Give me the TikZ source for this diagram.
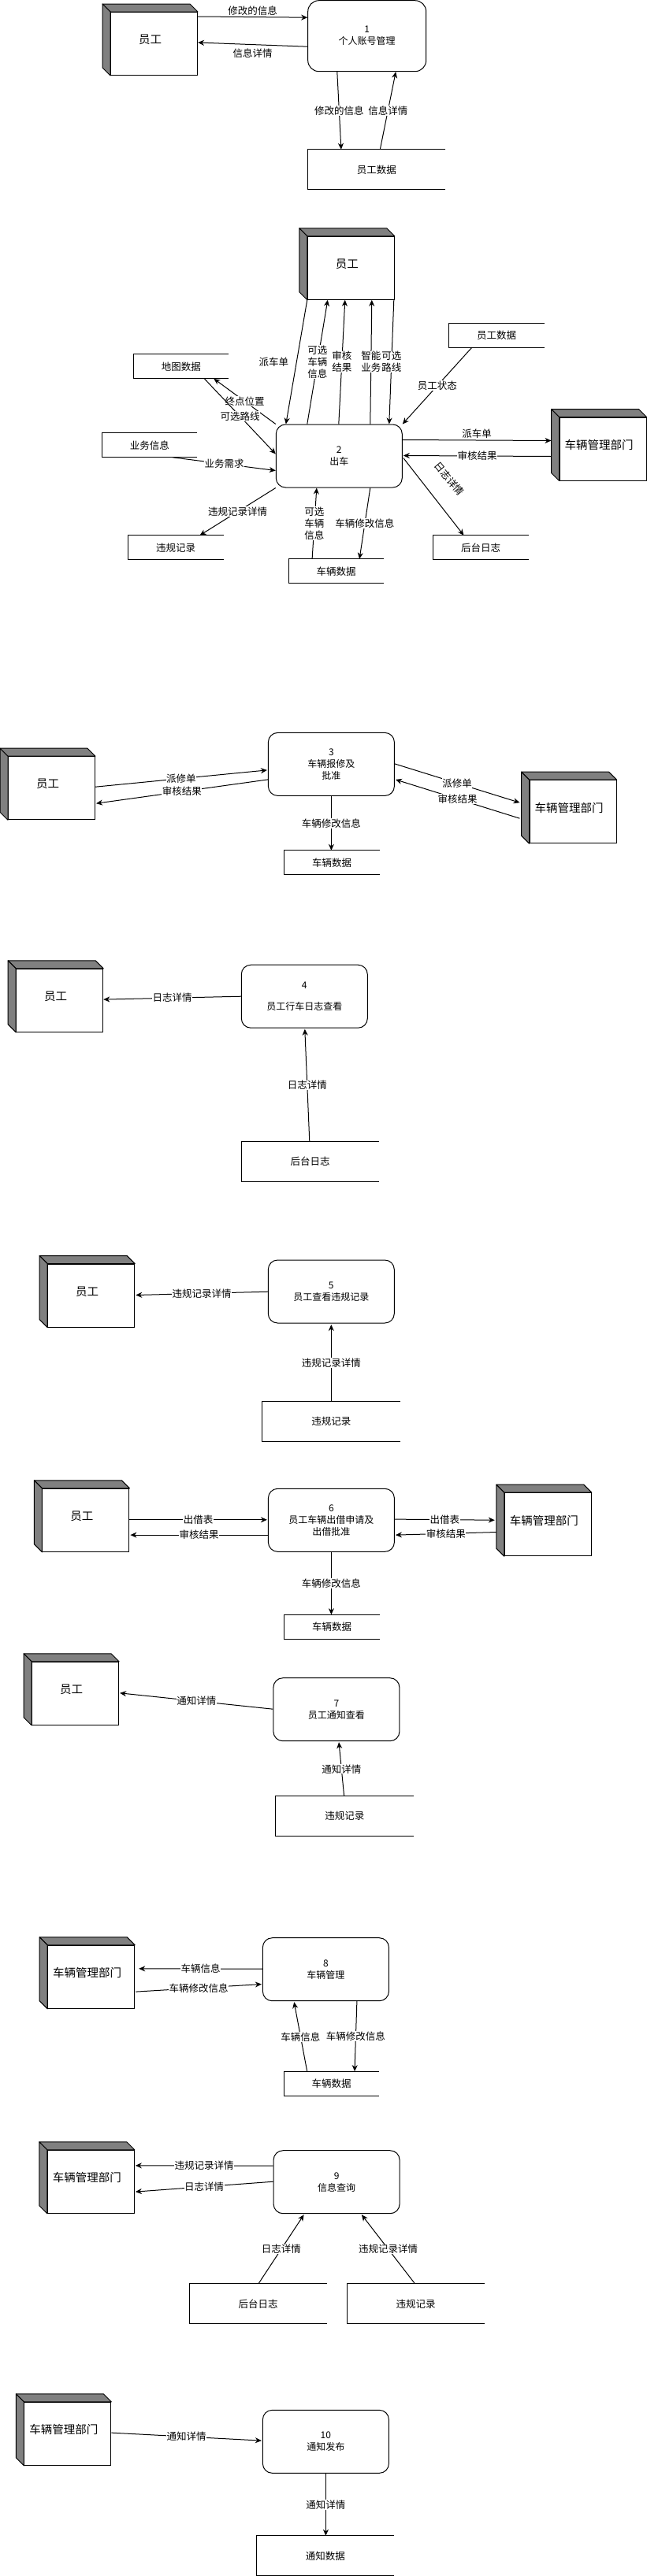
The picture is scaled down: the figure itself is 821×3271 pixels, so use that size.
\documentclass[tikz,border=0pt]{standalone}
\usepackage{fontspec}
\setmainfont{Noto Sans CJK SC}
\usetikzlibrary{arrows.meta,calc}
\definecolor{entgray}{HTML}{808080}
\newcommand\entsides[1]{%
  \draw[fill=entgray,line join=round] (#1.north west) -- ++(-10,-10) -- ($(#1.north east)+(-10,-10)$) -- (#1.north east) -- cycle;
  \draw[fill=entgray,line join=round] (#1.north west) -- ++(-10,-10) -- ($(#1.south west)+(-10,-10)$) -- (#1.south west) -- cycle;}
\newcommand\storelines[1]{\draw (#1.north east) -- (#1.north west) -- (#1.south west) -- (#1.south east);}
\tikzset{
  entlbl/.style={font=\fontsize{14.5}{17}\selectfont, xshift=-5pt, yshift=5pt, inner sep=0pt},
  ent/.style={draw, fill=white, minimum width=110pt, minimum height=80pt, inner sep=0pt, label={[entlbl]center:#1}},
  proc/.style={draw, rounded corners=12pt, minimum width=160pt, minimum height=80pt, inner sep=0pt, align=center, font=\fontsize{12}{15}\selectfont},
  store/.style={minimum width=120pt, minimum height=30pt, inner sep=0pt, font=\fontsize{12.5}{15}\selectfont},
  bigstore/.style={store, minimum width=174pt, minimum height=50pt},
  flow/.style={draw, line width=1pt, -{Stealth[length=8pt,width=7pt,inset=2.5pt]}},
  lbl/.style={fill=white, inner sep=0.5pt, align=center, font=\fontsize{12.5}{15}\selectfont},
}
\begin{document}
\begin{tikzpicture}[x=1pt,y=-1pt,line width=1pt]
\fill[white] (0,0) rectangle (821,3271);
\useasboundingbox (0,0) rectangle (821,3271);

% ---------- 1 ----------
\node[ent=员工] (e1) at (195.5,55.5) {};
\entsides{e1}
\node[proc, minimum width=150pt, minimum height=90pt, rounded corners=14pt] (p1) at (465.7,45.7) {1\\个人账号管理};
\node[bigstore] (s1) at (477.8,215.3) {员工数据};
\storelines{s1}
\draw[flow] ($(e1.north east)+(0,6)$) -- node[lbl, above=1pt]{修改的信息} ($(p1.north west)+(0,22)$);
\draw[flow] ($(p1.north west)+(0,59)$) -- node[lbl, below=4pt]{信息详情} ($(e1.north east)+(0,39)$);
\draw[flow] ($(p1.south west)+(37.6,0)$) -- node[lbl]{修改的信息} ($(s1.north west)+(42.6,0)$);
\draw[flow] ($(s1.north west)+(92,0)$) -- node[lbl]{信息详情} ($(p1.south west)+(112,0)$);

% ---------- 2 ----------
\node[ent=员工] (e2) at (445.3,340.3) {};
\entsides{e2}
\node[proc] (p2) at (430.3,579) {2\\出车};
\node[store] (s2map) at (229.8,465.3) {地图数据}; \storelines{s2map}
\node[store] (s2biz) at (189.8,565.3) {业务信息}; \storelines{s2biz}
\node[store] (s2vio) at (223,695.3) {违规记录}; \storelines{s2vio}
\node[store] (s2car) at (426.6,725.3) {车辆数据}; \storelines{s2car}
\node[store] (s2log) at (610,695.3) {后台日志}; \storelines{s2log}
\node[store] (s2emp) at (630,425.5) {员工数据}; \storelines{s2emp}
\node[ent=车辆管理部门] (e2dept) at (765,570) {};
\entsides{e2dept}

\draw[flow] (e2.south west) -- node[lbl, fill=none, xshift=-29pt]{派车单} ($(p2.north west)+(13,0)$);
\draw[flow] ($(p2.north west)+(40,0)$) -- node[lbl]{可选\\车辆\\信息} ($(e2.south west)+(26,0)$);
\draw[flow] ($(p2.north west)+(80,0)$) -- node[lbl]{审核\\结果} ($(e2.south west)+(48,0)$);
\draw[flow] ($(p2.north west)+(120,0)$) -- node[lbl]{智能\\业务} ($(e2.south west)+(82,0)$);
\draw[flow] ($(e2.south east)+(-1,0)$) -- node[lbl]{可选\\路线} ($(p2.north west)+(144,0)$);
\draw[flow] ($(s2emp.south west)+(29.5,0)$) -- node[lbl]{员工状态} (p2.north east);
\draw[flow] ($(p2.north east)+(0,20)$) -- node[lbl, above=1pt]{派车单} ($(e2dept.north west)+(-10,30)$);
\draw[flow] ($(e2dept.north west)+(-10,50)$) -- node[lbl]{审核结果} ($(p2.north east)+(1,40)$);
\draw[flow] ($(p2.north east)+(1,43)$) -- ($(s2log.north west)+(39,0)$);
\node[lbl, fill=none, rotate=-50] (l2log) at (570,608) {日志详情};
\draw[flow] (p2.north west) -- node[lbl]{终点位置} ($(s2map.south west)+(102,0)$);
\draw[flow] ($(s2map.south west)+(90,0)$) -- node[lbl]{可选路线} ($(p2.north west)+(0,38)$);
\draw[flow] ($(s2biz.south west)+(90,0)$) -- node[lbl]{业务需求} ($(p2.north west)+(0,59)$);
\draw[flow] (p2.south west) -- node[lbl]{违规记录详情} ($(s2vio.north west)+(91,0)$);
\draw[flow] ($(s2car.north west)+(30,0)$) -- node[lbl]{可选\\车辆\\信息} ($(p2.south west)+(52,0)$);
\draw[flow] ($(p2.south west)+(120,0)$) -- node[lbl]{车辆修改信息} ($(s2car.north west)+(90,0)$);

% ---------- 3 ----------
\node[ent=员工] (e3) at (65.5,1000.7) {};
\entsides{e3}
\node[proc] (p3) at (420.4,970.4) {3\\车辆报修及\\批准};
\node[store] (s3) at (421,1095.3) {车辆数据}; \storelines{s3}
\node[ent=车辆管理部门] (e3dept) at (727,1030.7) {};
\entsides{e3dept}
\draw[flow] ($(e3.north east)+(0,39)$) -- node[lbl]{派修单} ($(p3.north west)+(-1,48)$);
\draw[flow] ($(p3.north west)+(0,60)$) -- node[lbl]{审核结果} ($(e3.north east)+(1,60)$);
\draw[flow] ($(p3.north east)+(0,40)$) -- node[lbl]{派修单} ($(e3dept.north west)+(-12,29)$);
\draw[flow] ($(e3dept.north west)+(-12,49)$) -- node[lbl]{审核结果} ($(p3.north east)+(1,60)$);
\draw[flow] (p3.south) -- node[lbl]{车辆修改信息} (p3.south |- s3.north);

% ---------- 4 ----------
\node[ent=员工] (e4) at (75.7,1270.3) {};
\entsides{e4}
\node[proc] (p4) at (386.3,1265.2) {4\\[12.7pt]员工行车日志查看};
\node[bigstore] (s4) at (393.7,1475) {后台日志}; \storelines{s4}
\draw[flow] ($(p4.north west)+(0,40.5)$) -- node[lbl]{日志详情} ($(e4.north east)+(0,39.3)$);
\draw[flow] ($(s4.north west)+(86.6,0)$) -- node[lbl]{日志详情} ($(p4.south west)+(81,1)$);

% ---------- 5 ----------
\node[ent=员工] (e5) at (115.7,1645) {};
\entsides{e5}
\node[proc] (p5) at (420.3,1640) {5\\员工查看违规记录};
\node[bigstore] (s5) at (420.3,1805) {违规记录}; \storelines{s5}
\draw[flow] ($(p5.north west)+(0,40.7)$) -- node[lbl]{违规记录详情} ($(e5.north east)+(1,40)$);
\draw[flow] (s5.north) -- node[lbl]{违规记录详情} ($(p5.south)+(0,1.5)$);

% ---------- 6 ----------
\node[ent=员工] (e6) at (108.9,1930.3) {};
\entsides{e6}
\node[proc] (p6) at (420.4,1930.3) {6\\员工车辆出借申请及\\出借批准};
\node[ent=车辆管理部门] (e6dept) at (695.3,1935.7) {};
\entsides{e6dept}
\node[store] (s6) at (421,2065.7) {车辆数据}; \storelines{s6}
\draw[flow] ($(e6.north east)+(0,40)$) -- node[lbl]{出借表} ($(p6.north west)+(-1,40)$);
\draw[flow] ($(p6.north west)+(0,59.3)$) -- node[lbl]{审核结果} ($(e6.north east)+(1,59.3)$);
\draw[flow] ($(p6.north east)+(0,39.3)$) -- node[lbl]{出借表} ($(e6dept.north west)+(-12,35)$);
\draw[flow] ($(e6dept.north west)+(-10,50.3)$) -- node[lbl]{审核结果} ($(p6.north east)+(1,59.3)$);
\draw[flow] (p6.south) -- node[lbl]{车辆修改信息} (p6.south |- s6.north);

% ---------- 7 ----------
\node[ent=员工] (e7) at (95.6,2150.3) {};
\entsides{e7}
\node[proc] (p7) at (426.9,2170.7) {7\\员工通知查看};
\node[bigstore] (s7) at (437.4,2305.7) {违规记录}; \storelines{s7}
\draw[flow] ($(p7.north west)+(0,40)$) -- node[lbl]{通知详情} ($(e7.north east)+(1,40)$);
\draw[flow] ($(s7.north west)+(86.7,0)$) -- node[lbl]{通知详情} ($(p7.south west)+(83.6,1)$);

% ---------- 8 ----------
\node[ent=车辆管理部门] (e8) at (115.7,2510.3) {};
\entsides{e8}
\node[proc] (p8) at (413.4,2500.7) {8\\车辆管理};
\node[store] (s8) at (420.5,2645.7) {车辆数据}; \storelines{s8}
\draw[flow] ($(p8.north west)+(0,40)$) -- node[lbl]{车辆信息} ($(e8.north east)+(5,30)$);
\draw[flow] ($(e8.north east)+(1,59.3)$) -- node[lbl]{车辆修改信息} ($(p8.north west)+(-1,59.3)$);
\draw[flow] ($(s8.north west)+(29.7,0)$) -- node[lbl]{车辆信息} ($(p8.south west)+(40.3,1)$);
\draw[flow] ($(p8.south west)+(120,0)$) -- node[lbl]{车辆修改信息} ($(s8.north west)+(90,0)$);

% ---------- 9 ----------
\node[ent=车辆管理部门] (e9) at (115.3,2770.3) {};
\entsides{e9}
\node[proc] (p9) at (427.1,2770.7) {9\\信息查询};
\node[bigstore] (s9log) at (327.5,2925.3) {后台日志}; \storelines{s9log}
\node[bigstore] (s9vio) at (527.5,2925.3) {违规记录}; \storelines{s9vio}
\draw[flow] ($(p9.north west)+(0,20)$) -- node[lbl]{违规记录详情} ($(e9.north east)+(1,20)$);
\draw[flow] ($(p9.north west)+(0,40)$) -- node[lbl]{日志详情} ($(e9.north east)+(1,53.3)$);
\draw[flow] ($(s9log.north west)+(88,0)$) -- node[lbl]{日志详情} ($(p9.south west)+(39,1)$);
\draw[flow] ($(s9vio.north west)+(86.5,0)$) -- node[lbl]{违规记录详情} ($(p9.south west)+(112.3,1)$);

% ---------- 10 ----------
\node[ent=车辆管理部门] (e10) at (85.8,3090.3) {};
\entsides{e10}
\node[proc] (p10) at (413.4,3100.3) {10\\通知发布};
\node[bigstore] (s10) at (412.9,3245.3) {通知数据}; \storelines{s10}
\draw[flow] ($(e10.north east)+(0,39.3)$) -- node[lbl]{通知详情} ($(p10.north west)+(-1,39.3)$);
\draw[flow] (p10.south) -- node[lbl]{通知详情} (p10.south |- s10.north);
\end{tikzpicture}
\end{document}
